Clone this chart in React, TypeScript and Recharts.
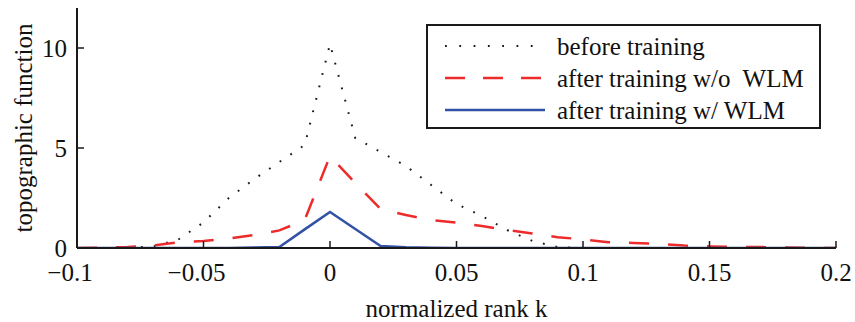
import { LineChart, Line, XAxis, YAxis, Legend } from 'recharts'

// normalized rank k, sampled every 0.01
const ks = [
  -0.1, -0.09, -0.08, -0.07, -0.06, -0.05, -0.04, -0.03, -0.02, -0.01, 0,
  0.01, 0.02, 0.03, 0.04, 0.05, 0.06, 0.07, 0.08, 0.09, 0.1,
  0.11, 0.12, 0.13, 0.14, 0.15, 0.16, 0.17, 0.18, 0.19, 0.2,
]

const beforeTraining = [
  0, 0, 0.02, 0.07, 0.42, 1.28, 2.5, 3.44, 4.3, 5.15, 10.2,
  5.5, 4.8, 4.1, 3.15, 2.2, 1.6, 0.9, 0.35, 0.05, 0,
  0, 0, 0, 0, 0, 0, 0, 0, 0, 0,
]

const afterNoWlm = [
  0, 0.01, 0.05, 0.13, 0.28, 0.35, 0.48, 0.65, 0.88, 1.4, 4.6,
  3.25, 1.95, 1.65, 1.4, 1.27, 1.1, 0.9, 0.72, 0.54, 0.43,
  0.29, 0.25, 0.2, 0.12, 0.08, 0.05, 0.05, 0.02, 0.01, 0,
]

const afterWlm = [
  0, 0, 0, 0, 0, 0, 0.005, 0.02, 0.05, 0.93, 1.8,
  0.95, 0.1, 0.04, 0.01, 0, 0, 0, 0, 0, 0,
  0, 0, 0, 0, 0, 0, 0, 0, 0, 0,
]

const xTicks = [-0.1, -0.05, 0, 0.05, 0.1, 0.15, 0.2]
const yTicks = [0, 5, 10]

const data = ks.map((k, i) => ({
  k,
  before: beforeTraining[i],
  noWlm: afterNoWlm[i],
  wlm: afterWlm[i],
}))

const FONT = '"Liberation Serif", "Times New Roman", serif'
const INK = '#1a1a1a'
const RED = '#ee2b2b'
const BLUE = '#3352a6'

const fmtX = (v: number) => (v < 0 ? '\u2212' + String(-v) : String(v))

// matlab-ish: negative labels sit a little left of their tick
const XTick = ({ x, y, payload }: any) => (
  <text
    x={x - (payload.value < 0 ? 7 : 0)}
    y={y}
    dy="0.71em"
    textAnchor="middle"
    fill="#111"
    fontSize={25}
    fontFamily={FONT}
  >
    {fmtX(payload.value)}
  </text>
)

const legendRows = [
  { label: 'before training', color: INK, dash: '1.8 12.5', width: 2 },
  { label: 'after training w/o  WLM', color: RED, dash: '20 18', width: 2.5 },
  { label: 'after training w/ WLM', color: BLUE, dash: undefined, width: 2.5 },
]

const LegendBox = () => (
  <div
    style={{
      boxSizing: 'border-box',
      width: 395,
      height: 105,
      border: `2px solid ${INK}`,
      background: '#fff',
      paddingTop: 4,
      paddingLeft: 17,
      fontFamily: FONT,
      fontSize: 25,
      color: '#111',
    }}
  >
    {legendRows.map((r) => (
      <div key={r.label} style={{ display: 'flex', alignItems: 'center', height: 32 }}>
        <svg width={100} height={10} style={{ marginRight: 12 }}>
          <line
            x1={0}
            y1={5}
            x2={100}
            y2={5}
            stroke={r.color}
            strokeWidth={r.width}
            strokeDasharray={r.dash}
          />
        </svg>
        <span style={{ whiteSpace: 'pre', lineHeight: 1 }}>{r.label}</span>
      </div>
    ))}
  </div>
)

export default function App() {
  const tickStyle = { fill: '#111', fontSize: 25, fontFamily: FONT }
  const axisLine = { stroke: INK, strokeWidth: 2 }
  const tickLine = { stroke: INK, strokeWidth: 1.5 }

  return (
    <div style={{ position: 'absolute', left: 0, top: 0, background: '#fff' }}>
      <LineChart
        width={855}
        height={322}
        data={data}
        margin={{ top: 8, right: 19, left: 0, bottom: 0 }}
        style={{ fontFamily: FONT }}
      >
        <XAxis
          dataKey="k"
          type="number"
          domain={[-0.1, 0.2]}
          ticks={xTicks}
          height={74}
          tickSize={-7}
          tickMargin={22}
          tick={<XTick />}
          axisLine={axisLine}
          tickLine={tickLine}
          allowDataOverflow
          label={{
            value: 'normalized rank k',
            position: 'insideBottom',
            offset: 5,
            style: { fill: '#111', fontSize: 25, fontFamily: FONT },
          }}
        />
        <XAxis
          xAxisId="top"
          orientation="top"
          type="number"
          domain={[-0.1, 0.2]}
          ticks={xTicks}
          height={0}
          tickSize={-7}
          tick={false}
          axisLine={axisLine}
          tickLine={tickLine}
          allowDataOverflow
        />
        <YAxis
          type="number"
          domain={[0, 12]}
          ticks={yTicks}
          width={77}
          tickSize={-7}
          tickMargin={17}
          tick={tickStyle}
          axisLine={axisLine}
          tickLine={tickLine}
          allowDataOverflow
          label={{
            value: 'topographic function',
            angle: -90,
            position: 'insideLeft',
            offset: 23,
            style: { fill: '#111', fontSize: 25, fontFamily: FONT, textAnchor: 'middle' },
          }}
        />
        <YAxis
          yAxisId="right"
          orientation="right"
          type="number"
          domain={[0, 12]}
          ticks={yTicks}
          width={0}
          tickSize={-7}
          tick={false}
          axisLine={axisLine}
          tickLine={tickLine}
          allowDataOverflow
        />
        <Legend
          layout="horizontal"
          align="center"
          verticalAlign="middle"
          wrapperStyle={{ position: 'absolute', left: 426, top: 24, width: 395, height: 105 }}
          content={() => <LegendBox />}
        />
        <Line
          dataKey="before"
          type="linear"
          stroke={INK}
          strokeWidth={2}
          strokeDasharray="1.8 11"
          dot={false}
          activeDot={false}
          isAnimationActive={false}
        />
        <Line
          dataKey="noWlm"
          type="linear"
          stroke={RED}
          strokeWidth={2.5}
          strokeDasharray="20 19"
          dot={false}
          activeDot={false}
          isAnimationActive={false}
        />
        <Line
          dataKey="wlm"
          type="linear"
          stroke={BLUE}
          strokeWidth={2.5}
          dot={false}
          activeDot={false}
          isAnimationActive={false}
        />
      </LineChart>
    </div>
  )
}
